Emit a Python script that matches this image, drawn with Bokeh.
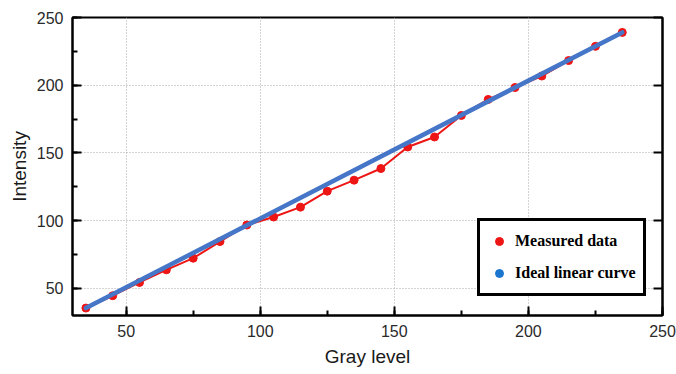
from bokeh.plotting import figure
from bokeh.models import (LinearAxis, SingleIntervalTicker, Legend, LegendItem,
                          Range1d, ColumnDataSource)
from bokeh.embed import file_html
from bokeh.resources import INLINE

# ---- data ----
gray_level = [35, 45, 55, 65, 75, 85, 95, 105, 115, 125, 135,
              145, 155, 165, 175, 185, 195, 205, 215, 225, 235]
measured = [35.5, 44.6, 54.4, 63.7, 72.3, 84.6, 96.8, 102.7, 110.0, 121.8, 129.9,
            138.5, 154.4, 161.8, 177.7, 189.5, 198.3, 206.8, 218.2, 228.7, 239.0]
ideal_x = [35, 235]
ideal_y = [35.5, 239.0]
x_label = "Gray level"
y_label = "Intensity"
legend_labels = ["Measured data", "Ideal linear curve"]
major_ticks = [50, 100, 150, 200, 250]

RED = "#ee1515"
BLUE_LINE = "#4576c8"
BLUE_DOT = "#1a76cf"

p = figure(width=676, height=374, output_backend="svg", toolbar_location=None,
           x_range=Range1d(30, 250), y_range=Range1d(30, 250),
           min_border_left=72, min_border_right=14, min_border_top=17,
           min_border_bottom=59)
p.background_fill_color = "white"
p.border_fill_color = "white"
p.outline_line_color = "black"
p.outline_line_width = 2

meas_src = ColumnDataSource(dict(x=gray_level, y=measured))
ideal_src = ColumnDataSource(dict(x=ideal_x, y=ideal_y))

p.line("x", "y", source=meas_src, line_color=RED, line_width=2)
r_meas = p.scatter("x", "y", source=meas_src, size=8, fill_color=RED, line_color=RED)
p.line("x", "y", source=ideal_src, line_color=BLUE_LINE, line_width=4.5,
       line_cap="round")
# marker proxy for the ideal curve legend entry (not visible on the plot)
r_ideal = p.scatter("x", "y", source=ideal_src, size=0, fill_color=BLUE_DOT,
                    line_color=BLUE_DOT)

# axes
for ax in (p.xaxis[0], p.yaxis[0]):
    ax.ticker = SingleIntervalTicker(interval=50, num_minor_ticks=2)
    ax.major_tick_in = 9
    ax.major_tick_out = 0
    ax.minor_tick_in = 5
    ax.minor_tick_out = 0
    ax.major_tick_line_width = 2
    ax.minor_tick_line_width = 2
    ax.major_tick_line_color = "black"
    ax.minor_tick_line_color = "black"
    ax.axis_line_color = "black"
    ax.axis_line_width = 2
    ax.major_label_text_font = "Liberation Sans"
    ax.major_label_text_font_size = "16px"
    ax.major_label_text_color = "#2a2a2a"
    ax.axis_label_text_font = "Liberation Sans"
    ax.axis_label_text_font_size = "19px"
    ax.axis_label_text_font_style = "normal"
    ax.axis_label_text_color = "#1a1a1a"

p.xaxis[0].axis_label = x_label
p.yaxis[0].axis_label = y_label
p.xaxis[0].major_label_standoff = 9
p.xaxis[0].axis_label_standoff = 6
p.yaxis[0].major_label_standoff = 9
p.yaxis[0].axis_label_standoff = 4

right = LinearAxis(ticker=SingleIntervalTicker(interval=50, num_minor_ticks=0))
right.major_tick_in = 9
right.major_tick_out = 0
right.major_tick_line_width = 2
right.major_tick_line_color = "black"
right.minor_tick_in = 0
right.minor_tick_out = 0
right.minor_tick_line_color = None
right.major_label_overrides = {t: "" for t in major_ticks}
right.major_label_standoff = 0
right.axis_line_color = "black"
right.axis_line_width = 2
p.add_layout(right, "right")

for g in (p.xgrid[0], p.ygrid[0]):
    g.ticker = SingleIntervalTicker(interval=50)
    g.grid_line_color = "#a8a8a8"
    g.grid_line_dash = "1 2"
    g.grid_line_width = 1

legend = Legend(items=[LegendItem(label=legend_labels[0], renderers=[r_meas]),
                       LegendItem(label=legend_labels[1], renderers=[r_ideal])],
                location=(405, 19))
legend.label_text_font = "Liberation Serif"
legend.label_text_font_style = "bold"
legend.label_text_font_size = "16px"
legend.label_text_color = "black"
legend.border_line_color = "black"
legend.border_line_alpha = 1
legend.border_line_width = 3
legend.background_fill_color = "white"
legend.background_fill_alpha = 1
legend.padding = 7
legend.spacing = 6
legend.glyph_width = 24
legend.glyph_height = 20
legend.label_height = 26
legend.label_standoff = 4
legend.margin = 0
p.add_layout(legend)

open("out.html", "w").write(file_html(p, INLINE))
